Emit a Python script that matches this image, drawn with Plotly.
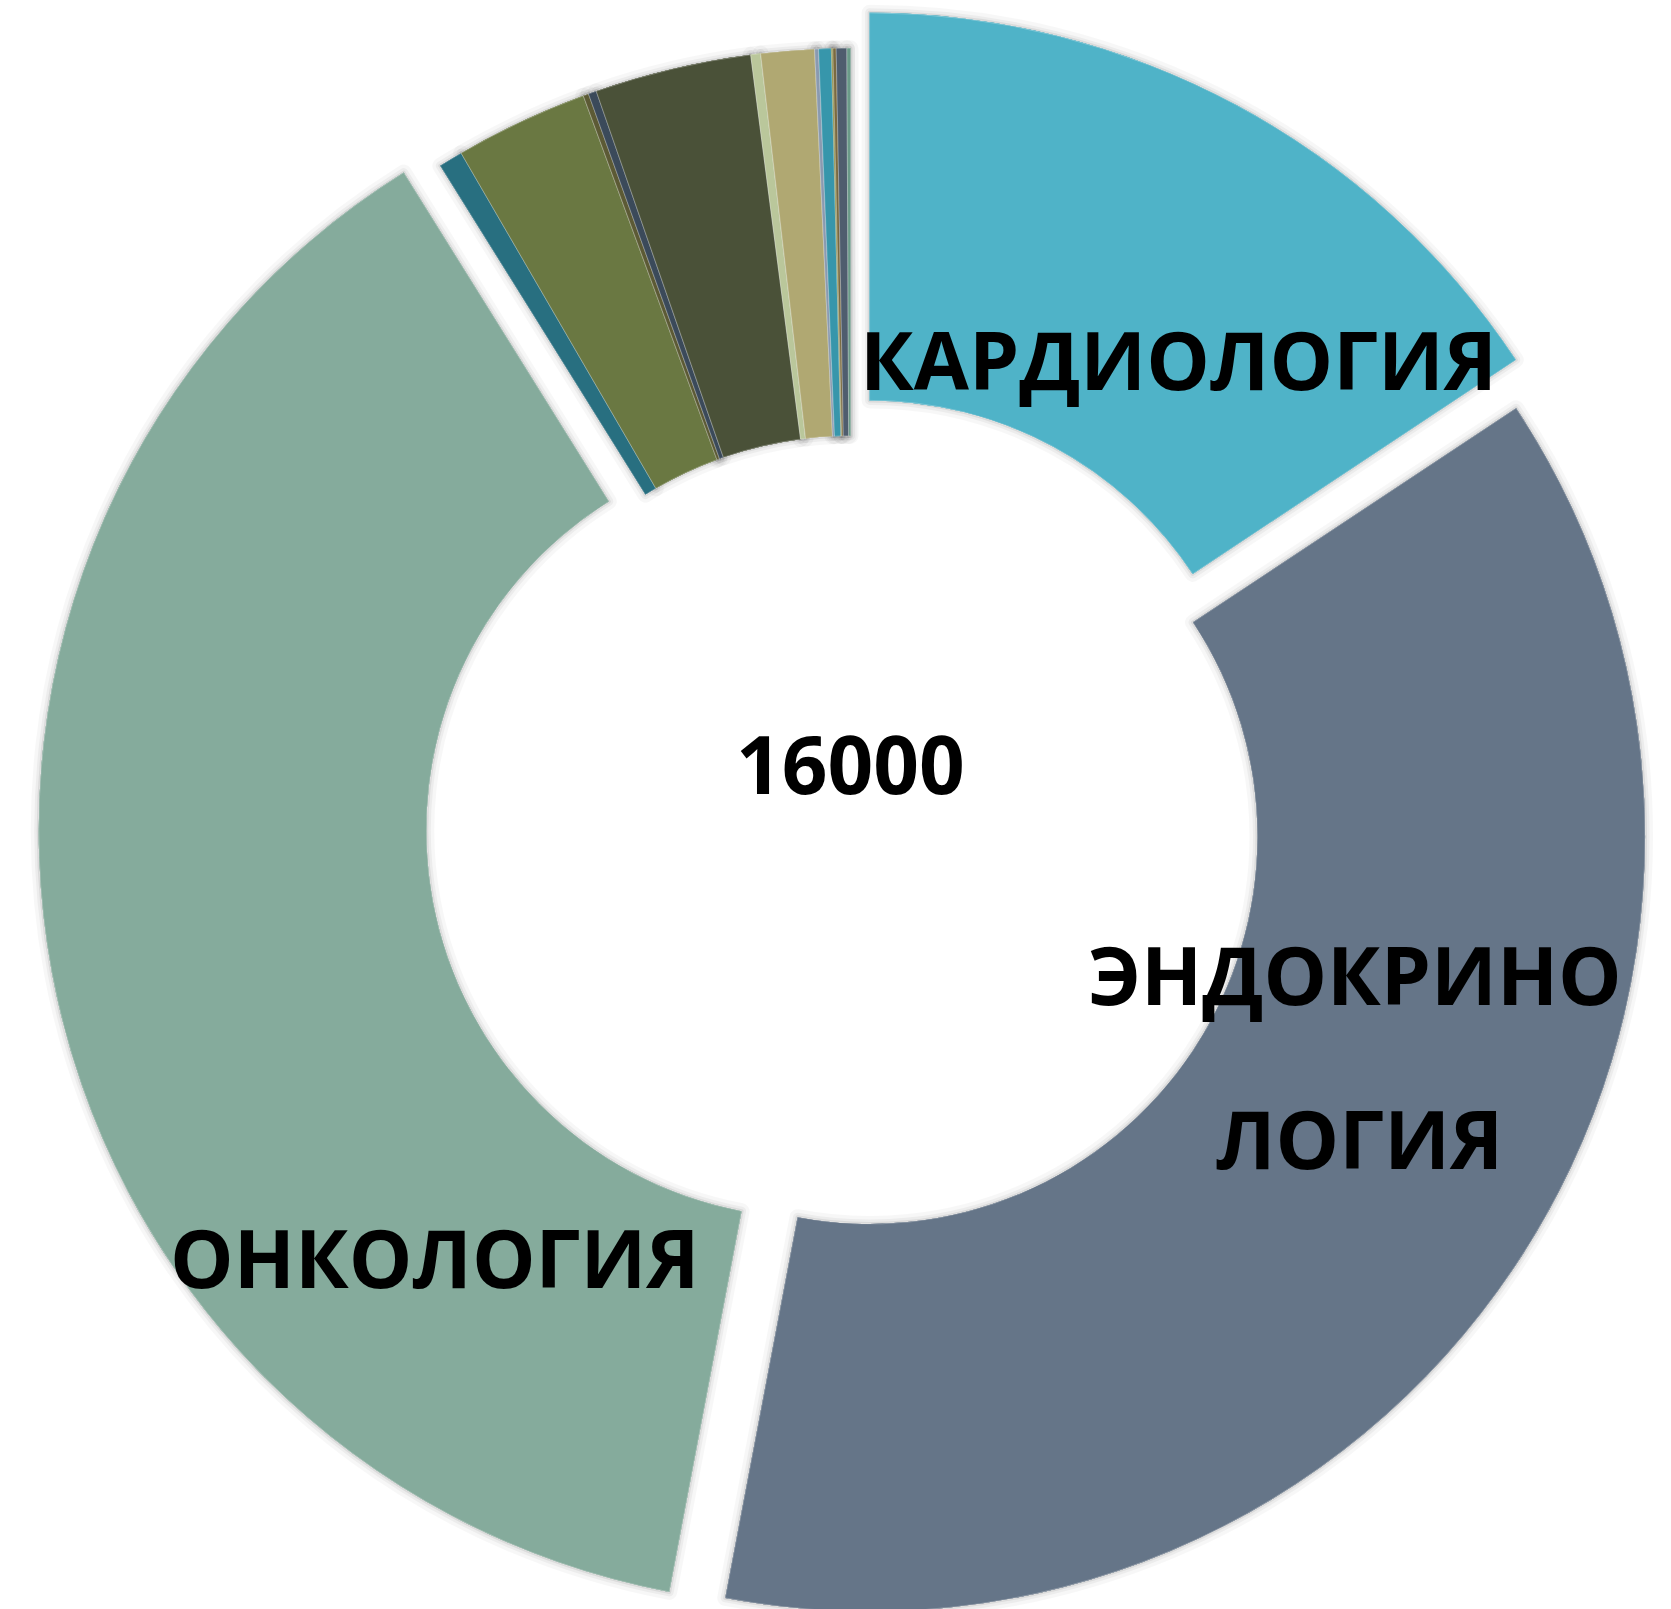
import plotly.graph_objects as go

# slices in clockwise order starting at 12 o'clock
labels = [
    "КАРДИОЛОГИЯ", "ЭНДОКРИНОЛОГИЯ", "ОНКОЛОГИЯ",
    "Прочее 1", "Прочее 2", "Прочее 3", "Прочее 4", "Прочее 5", "Прочее 6",
    "Прочее 7", "Прочее 8", "Прочее 9", "Прочее 10", "Прочее 11", "Прочее 12", "Прочее 13",
]
values = [2510, 5968, 6102, 80, 444, 18, 27, 522, 33, 178, 13, 42, 5, 11, 35, 12]
colors = [
    "#4FB3C8", "#657588", "#85AB9C",
    "#286F80", "#6A7842", "#5C5A35", "#3B4A5A", "#4A5138", "#BAC79B",
    "#B0A872", "#8A9AB0", "#3796AB", "#8A8A3A", "#7A6A40", "#4F5D6E", "#6A9A88",
]
pulls = [0.052, 0.030, 0.048] + [0.0] * 13
total_label = "16000"

W, H = 1671, 1640
L, T, BOX = 35, 8, 1631


def px(x, y):
    # pixel position -> paper coords
    return (x - L) / BOX, 1 - (y - T) / BOX


def donut(line):
    return go.Pie(
        labels=labels,
        values=values,
        marker=dict(colors=colors, line=line),
        pull=pulls,
        hole=0.5,
        sort=False,
        direction="clockwise",
        rotation=0,
        textinfo="none",
        showlegend=False,
    )


fig = go.Figure()
# soft halo underneath, like the shadow in the original
for w, a in [(16, 0.03), (9, 0.045), (4, 0.07)]:
    fig.add_trace(donut(dict(color=f"rgba(0,0,0,{a})", width=w)))
    fig.data[-1].hoverinfo = "skip"
fig.add_trace(donut(dict(color="rgba(255,255,255,0.5)", width=0.6)))

font = dict(family="Open Sans", size=80, color="black", weight="bold")
notes = [
    ("КАРДИОЛОГИЯ", 1178, 358),
    (total_label, 850, 762),
    ("ЭНДОКРИНО", 1355, 973),
    ("ЛОГИЯ", 1359, 1137),
    ("ОНКОЛОГИЯ", 435, 1256),
]
for txt, x, y in notes:
    ax, ay = px(x, y)
    fig.add_annotation(text=txt, x=ax, y=ay, xref="paper", yref="paper",
                       showarrow=False, xanchor="center", yanchor="middle", font=font)

fig.update_layout(
    width=W,
    height=H,
    margin=dict(l=L, r=W - L - BOX, t=T, b=H - T - BOX, autoexpand=False),
    paper_bgcolor="white",
    plot_bgcolor="white",
)

fig.write_html(
    "out.html",
    config={"displayModeBar": False},
    post_script="document.body.style.margin='0';document.body.style.overflow='hidden';",
)
